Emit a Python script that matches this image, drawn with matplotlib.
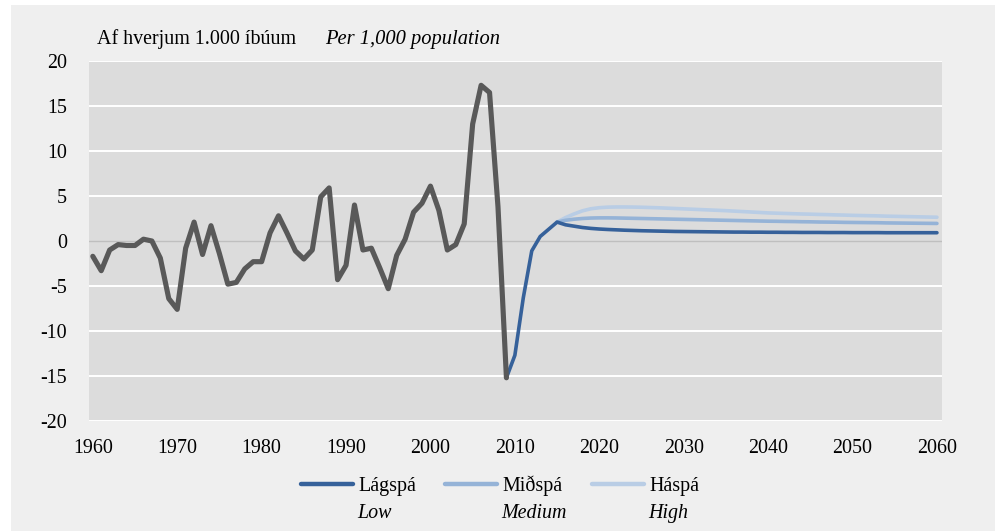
import matplotlib
matplotlib.use("Agg")
import matplotlib.pyplot as plt
from matplotlib.lines import Line2D
from matplotlib.patches import Rectangle

# ---- data ----
hist_years = list(range(1960, 2010))
hist_values = [-1.7, -3.3, -1.0, -0.4, -0.5, -0.5, 0.2, 0.0, -1.9, -6.4,
               -7.6, -0.8, 2.1, -1.5, 1.7, -1.4, -4.8, -4.6, -3.1, -2.3,
               -2.3, 0.9, 2.8, 0.9, -1.1, -2.0, -1.0, 4.9, 5.9, -4.3,
               -2.7, 4.0, -1.0, -0.8, -3.0, -5.3, -1.6, 0.2, 3.2, 4.2,
               6.1, 3.4, -1.0, -0.4, 1.9, 13.0, 17.3, 16.5, 3.8, -15.2]

low_years = list(range(2009, 2061))
low_values = [-15.2, -12.7, -6.3, -1.1, 0.5, 1.3, 2.1, 1.8, 1.65, 1.5,
              1.4, 1.33, 1.28, 1.24, 1.2, 1.17, 1.14, 1.12, 1.1, 1.08,
              1.06, 1.05, 1.04, 1.03, 1.02, 1.01, 1.0, 0.99, 0.99, 0.98,
              0.98, 0.97, 0.97, 0.96, 0.96, 0.95, 0.95, 0.95, 0.94, 0.94,
              0.94, 0.93, 0.93, 0.93, 0.93, 0.92, 0.92, 0.92, 0.92, 0.92,
              0.92, 0.92]

proj_years = list(range(2015, 2061))
medium_values = [2.1, 2.3, 2.42, 2.5, 2.55, 2.57, 2.57, 2.56, 2.54, 2.52,
                 2.5, 2.48, 2.46, 2.44, 2.42, 2.4, 2.38, 2.36, 2.34, 2.32,
                 2.3, 2.28, 2.26, 2.24, 2.22, 2.2, 2.19, 2.17, 2.16, 2.14,
                 2.13, 2.11, 2.1, 2.09, 2.07, 2.06, 2.05, 2.04, 2.03, 2.01,
                 2.0, 1.99, 1.98, 1.97, 1.96, 1.95]
high_values = [2.1, 2.6, 3.0, 3.35, 3.58, 3.7, 3.76, 3.78, 3.78, 3.77,
               3.75, 3.72, 3.69, 3.65, 3.61, 3.57, 3.53, 3.49, 3.45, 3.41,
               3.37, 3.32, 3.27, 3.22, 3.17, 3.12, 3.09, 3.06, 3.03, 3.0,
               2.98, 2.95, 2.93, 2.9, 2.88, 2.85, 2.83, 2.81, 2.79, 2.76,
               2.74, 2.72, 2.7, 2.68, 2.66, 2.64]

y_ticks = [-20, -15, -10, -5, 0, 5, 10, 15, 20]
x_ticks = [1960, 1970, 1980, 1990, 2000, 2010, 2020, 2030, 2040, 2050, 2060]

legend_is = ["Lágspá", "Miðspá", "Háspá"]
legend_en = ["Low", "Medium", "High"]
title_is = "Af hverjum 1.000 íbúum"
title_en = "Per 1,000 population"

# ---- style ----
C_HIST = "#595959"
C_LOW = "#36619a"
C_MED = "#95b3d7"
C_HIGH = "#b9cde5"
PANEL = "#efefef"
PLOTBG = "#dcdcdc"

plt.rcParams["font.family"] = ["Liberation Serif", "DejaVu Serif"]
plt.rcParams["axes.unicode_minus"] = False

fig = plt.figure(figsize=(10, 5.31), dpi=100, facecolor="white")
fig.add_artist(Rectangle((0.011, 0.0), 0.984, 0.9906, transform=fig.transFigure,
                         facecolor=PANEL, edgecolor="none", zorder=-10))

ax = fig.add_axes([0.089, 0.2072, 0.853, 0.6779])
ax.set_facecolor(PLOTBG)
for s in ax.spines.values():
    s.set_visible(False)

ax.set_ylim(-20, 20)
ax.set_xlim(1959.55, 2060.6)
ax.set_yticks(y_ticks)
ax.set_xticks(x_ticks)
ax.tick_params(axis="both", length=0, labelsize=14.4, colors="black")
ax.tick_params(axis="y", pad=16)
ax.tick_params(axis="x", pad=13)
for t in y_ticks:
    if t == 0:
        ax.axhline(0, color="#bfbfbf", lw=1.0, zorder=1)
    else:
        ax.axhline(t, color="white", lw=1.4, zorder=1)

kw = dict(solid_capstyle="round", solid_joinstyle="round", zorder=3)
ax.plot(proj_years, high_values, color=C_HIGH, lw=2.6, **kw)
ax.plot(proj_years, medium_values, color=C_MED, lw=2.6, **kw)
ax.plot(low_years, low_values, color=C_LOW, lw=2.6, **kw)
ax.plot(hist_years, hist_values, color=C_HIST, lw=3.7, **kw)

# title
fig.text(0.097, 0.917, title_is, fontsize=14.4, ha="left", va="baseline")
fig.text(0.325, 0.917, title_en, fontsize=14.8, ha="left", va="baseline",
         style="italic")

# legend
leg_x = [0.301, 0.445, 0.592]
leg_colors = [C_LOW, C_MED, C_HIGH]
ly = 1 - 483.5 / 531
for x0, c, lab_is, lab_en in zip(leg_x, leg_colors, legend_is, legend_en):
    fig.add_artist(Line2D([x0, x0 + 0.052], [ly, ly], transform=fig.transFigure,
                          color=c, lw=3.2, solid_capstyle="round"))
    fig.text(x0 + 0.057, 1 - 491.5 / 531, lab_is, fontsize=14.4,
             ha="left", va="baseline")
    fig.text(x0 + 0.056, 1 - 518 / 531, lab_en, fontsize=14.4,
             ha="left", va="baseline", style="italic")

fig.savefig("out.png", dpi=100, facecolor="white")
